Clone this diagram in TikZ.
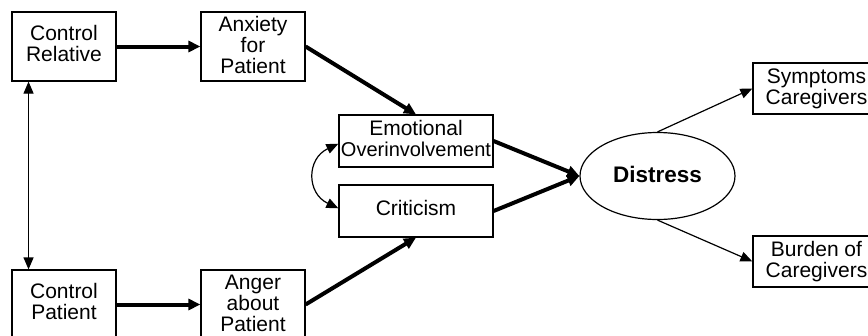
\documentclass[tikz,border=0pt]{standalone}
\usepackage{fontspec}
\setmainfont{Liberation Sans}
\usetikzlibrary{arrows.meta,shapes.geometric,calc}
\begin{document}
\begin{tikzpicture}[x=1pt,y=-1pt,
  box/.style={draw,line width=1.2pt,rectangle,inner sep=0pt,align=center,
    font=\fontsize{21}{21}\selectfont},
  smallbox/.style={box,minimum width=104pt,minimum height=69pt},
  midbox/.style={box,minimum width=154pt,minimum height=52pt},
  rightbox/.style={box,minimum width=127pt,minimum height=51pt},
  thick arrow/.style={line width=4pt,-{Triangle[length=12pt,width=11pt]}},
  thin arrow/.style={line width=1.2pt,-{Triangle[length=12pt,width=10pt]}},
  thin double/.style={line width=1.2pt,{Triangle[length=12pt,width=10pt]}-{Triangle[length=12pt,width=10pt]}},
]
\useasboundingbox (0,0) rectangle (868,335);
\clip (0,0) rectangle (868,335);
\fill[white] (0,0) rectangle (868,335);

\node[smallbox] (cr) at (64,46.5) {Control\\Relative\rule[-6.8pt]{0pt}{6.8pt}};
\node[smallbox] (anx) at (253,46.5) {Anxiety\\for\\Patient\rule[-2.6pt]{0pt}{2.6pt}};
\node[smallbox] (cp) at (64,304.5) {Control\\Patient\rule[-6.8pt]{0pt}{6.8pt}};
\node[smallbox] (ang) at (253,304.5) {Anger\\about\\Patient\rule[-2.6pt]{0pt}{2.6pt}};
\node[midbox] (eo) at (416,141) {Emotional\\{\fontsize{20}{21}\selectfont Overinvolvement}\rule[-5.6pt]{0pt}{5.6pt}};
\node[midbox] (crit) at (416,211) {Criticism\rule[-5.4pt]{0pt}{5.4pt}};
\node[draw,line width=1.2pt,ellipse,inner sep=0pt,minimum width=155pt,minimum height=87pt,
  font=\fontsize{22.5}{24}\selectfont\bfseries] (dis) at (657.5,176) {Distress\rule[-2.6pt]{0pt}{2.6pt}};
\node[rightbox] (sym) at (816.5,88.5) {Symptoms\\Caregivers};
\node[rightbox] (bur) at (816.5,261.5) {Burden of\\Caregivers};

\draw[thick arrow] (cr.east) -- (anx.west);
\draw[thick arrow] (cp.east) -- (ang.west);
\draw[thin double] ($(cr.south west)!0.163!(cr.south east)$) -- ($(cp.north west)!0.163!(cp.north east)$);
\draw[thick arrow] (anx.east) -- (eo.north);
\draw[thick arrow] (ang.east) -- (crit.south);
\draw[thin double] (eo.182) .. controls +(-32,15) and +(-32,-15) .. (crit.178);
\draw[thick arrow] (eo.east) -- (dis.west);
\draw[thick arrow] (crit.east) -- (dis.west);
\draw[thin arrow] (dis.north) -- (sym.west);
\draw[thin arrow] (dis.south) -- (bur.west);
\end{tikzpicture}
\end{document}
